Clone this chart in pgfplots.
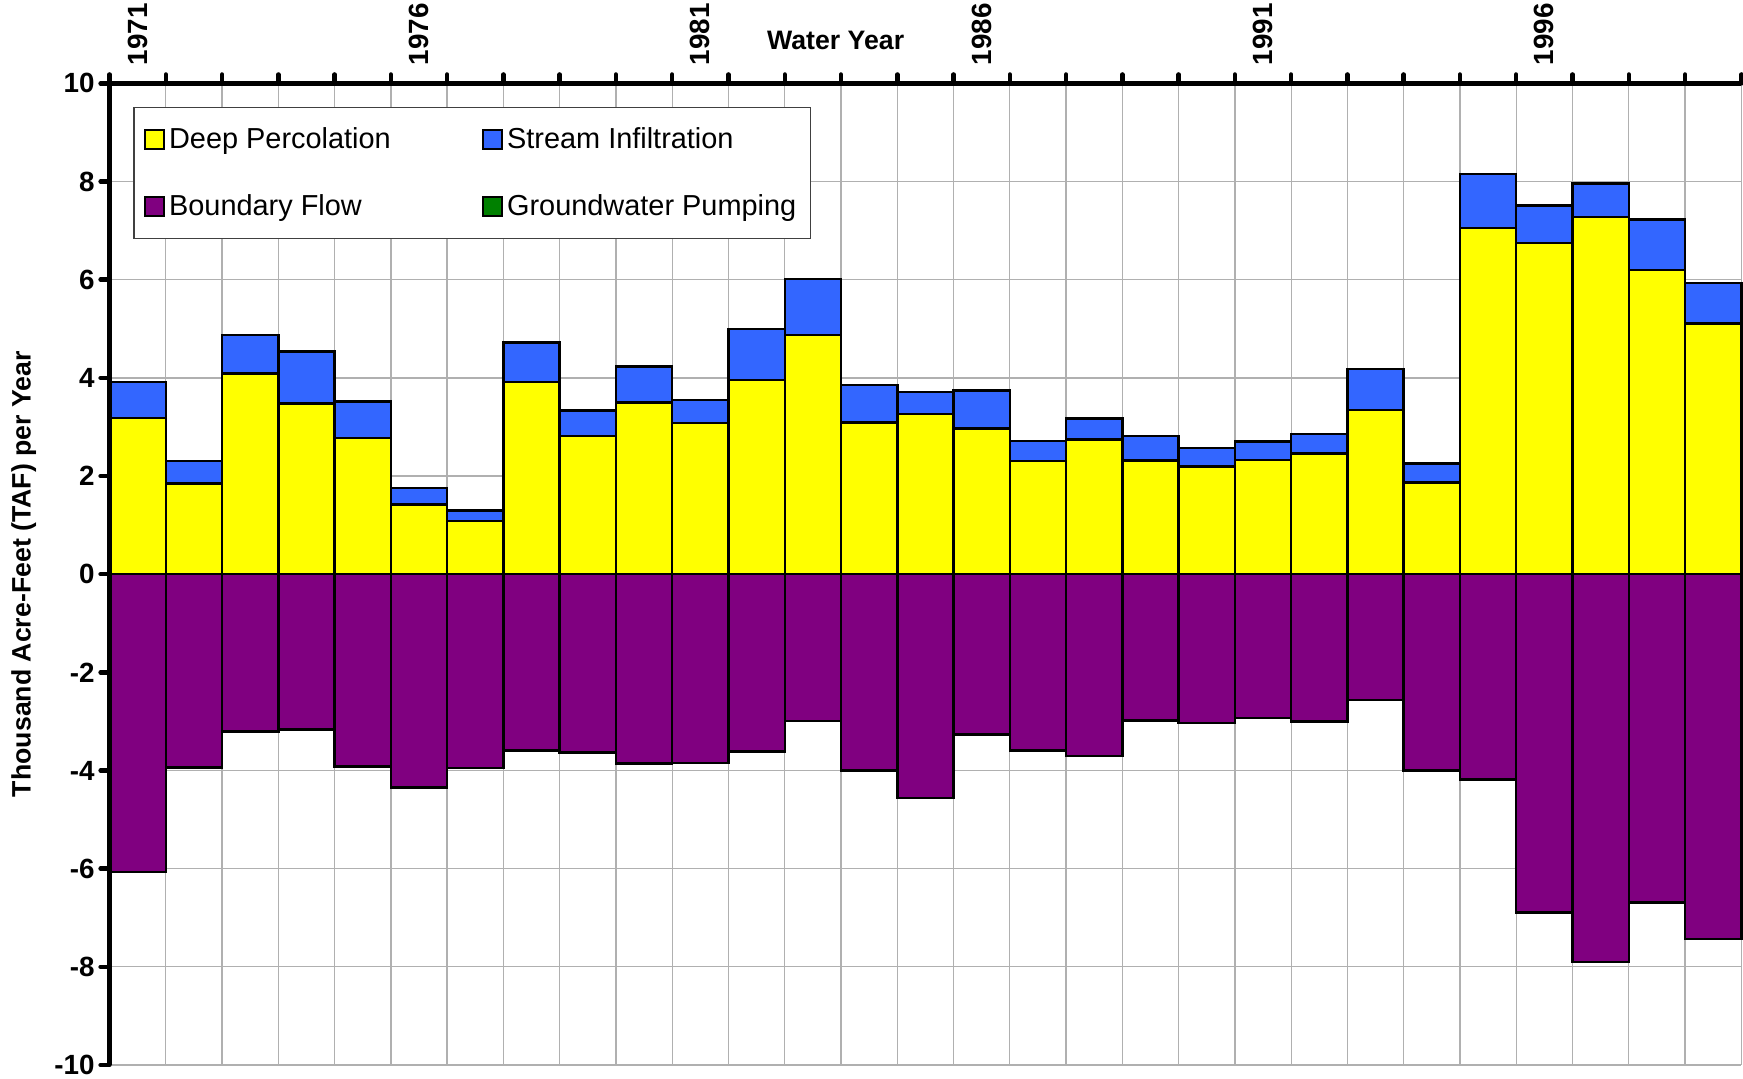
\documentclass[border=0pt]{standalone}
\usepackage{pgfplots}
\pgfplotsset{compat=1.18}
\usepackage{pgfplotstable}
\usepackage{fontspec}
\setmainfont{Liberation Sans}
\definecolor{dpY}{HTML}{FFFF00}
\definecolor{siB}{HTML}{3366FF}
\definecolor{bfP}{HTML}{800080}
\definecolor{gpG}{HTML}{008000}
\definecolor{gridc}{HTML}{B0B0B0}

% x = year index (0 = 1971), dp = Deep Percolation, si = Stream Infiltration, bf = Boundary Flow
\pgfplotstableread{
x  dp    si    bf
0  3.18  0.74  -6.07
1  1.85  0.46  -3.94
2  4.09  0.78  -3.21
3  3.48  1.06  -3.17
4  2.77  0.75  -3.92
5  1.42  0.33  -4.35
6  1.08  0.22  -3.95
7  3.92  0.80  -3.59
8  2.82  0.51  -3.63
9  3.50  0.73  -3.86
10 3.08  0.47  -3.85
11 3.96  1.04  -3.61
12 4.87  1.14  -2.99
13 3.09  0.76  -4.00
14 3.26  0.45  -4.56
15 2.97  0.77  -3.27
16 2.30  0.41  -3.59
17 2.74  0.43  -3.70
18 2.32  0.50  -2.98
19 2.19  0.38  -3.03
20 2.33  0.37  -2.93
21 2.46  0.39  -3.00
22 3.34  0.84  -2.56
23 1.87  0.38  -4.00
24 7.05  1.10  -4.18
25 6.75  0.76  -6.89
26 7.28  0.68  -7.90
27 6.20  1.03  -6.69
28 5.11  0.82  -7.43
}\datatab

\begin{document}
\begin{tikzpicture}
\path[use as bounding box] (-49.25pt,-6pt) rectangle (734.75pt,479pt);
\begin{axis}[
  at={(0,0)}, anchor=south west,
  scale only axis, width=734pt, height=441.5pt,
  clip=false,
  xmin=-0.5, xmax=28.5, ymin=-10, ymax=10,
  axis x line*=top, axis y line*=left,
  axis line style={line width=2.4pt, black},
  xtick={0,5,10,15,20,25},
  xticklabels={1971,1976,1981,1986,1991,1996},
  minor xtick={-0.5,0.5,...,28.5},
  ytick={-10,-8,...,10},
  xminorgrids=true, ymajorgrids=true, xmajorgrids=false,
  grid style={gridc, line width=0.6pt},
  minor grid style={gridc, line width=0.6pt},
  tick align=outside,
  major tick length=4pt, minor tick length=4pt,
  major x tick style={draw=none},
  minor x tick style={line width=2pt, line cap=round, black},
  major y tick style={line width=2pt, line cap=round, black},
  /pgf/number format/assume math mode=true,
  tick label style={font=\fontsize{12.5}{14}\selectfont\bfseries},
  yticklabel style={inner xsep=2.5pt},
  xticklabel style={rotate=90, anchor=west, inner xsep=2.5pt},
  xticklabel shift=1.5pt,
  label style={font=\fontsize{12}{14}\selectfont\bfseries},
  xlabel={Water Year},
  xlabel style={at={(axis description cs:0.445,1.044)}, anchor=center},
  ylabel={Thousand Acre-Feet (TAF) per Year},
  ylabel style={at={(axis description cs:-0.0525,0.5)}, anchor=center},
  legend columns=2,
  legend cell align=left,
  legend image code/.code={\draw[#1, line width=0.8pt] (0pt,-4.25pt) rectangle (8.5pt,4.25pt);},
  legend style={at={(axis description cs:0.0146,0.976)}, anchor=north west,
    draw=black!75, line width=0.6pt, fill=white,
    font=\fontsize{13}{15}\selectfont,
    inner xsep=4.5pt, inner ysep=7pt, row sep=15pt,
    /tikz/every even column/.append style={column sep=39pt}},
]
\addplot[ybar, bar width=1, bar shift=0pt, fill=siB, draw=black, line width=1.1pt, forget plot]
  table[x=x, y expr=\thisrow{dp}+\thisrow{si}] {\datatab};
\addplot[ybar, bar width=1, bar shift=0pt, fill=dpY, draw=black, line width=1.1pt, forget plot]
  table[x=x, y=dp] {\datatab};
\addplot[ybar, bar width=1, bar shift=0pt, fill=bfP, draw=black, line width=1.1pt, forget plot]
  table[x=x, y=bf] {\datatab};

\addlegendimage{fill=dpY, draw=black}
\addlegendentry{Deep Percolation}
\addlegendimage{fill=siB, draw=black}
\addlegendentry{Stream Infiltration}
\addlegendimage{fill=bfP, draw=black}
\addlegendentry{Boundary Flow}
\addlegendimage{fill=gpG, draw=black}
\addlegendentry{Groundwater Pumping}

\draw[line width=2.4pt, black] (axis cs:-0.5,-10) -- (axis cs:-0.5,10);
\end{axis}
\end{tikzpicture}
\end{document}
